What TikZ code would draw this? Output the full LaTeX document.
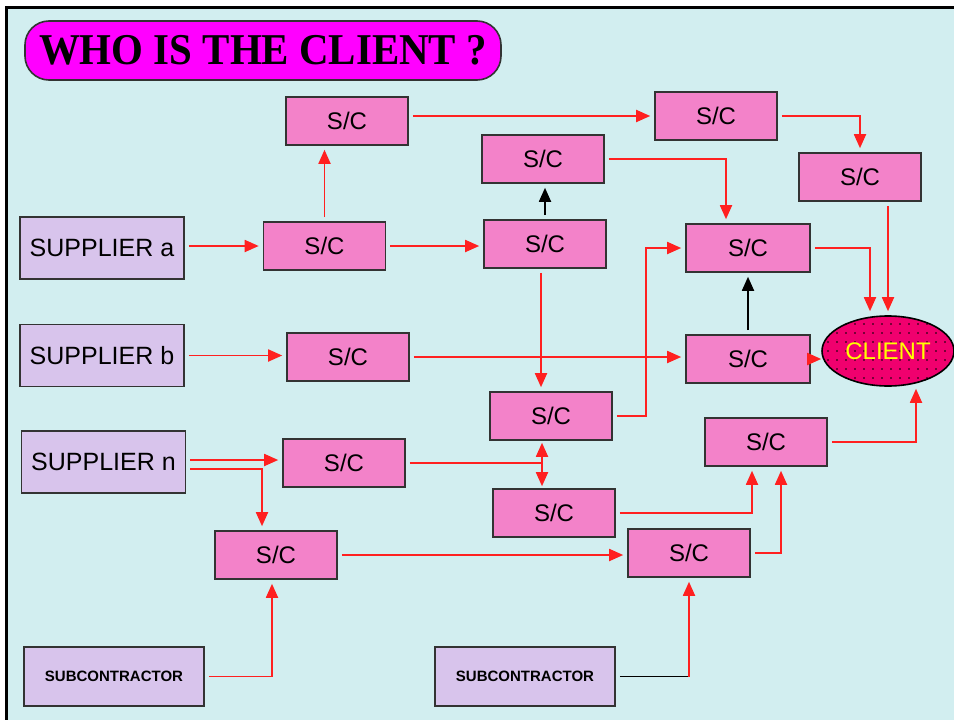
\documentclass[tikz,border=0pt]{standalone}
\usepackage{fontspec}
\setmainfont{Liberation Sans}
\newfontfamily\titlefont{Liberation Serif}
\usetikzlibrary{arrows.meta,patterns.meta,shapes.geometric}
\definecolor{bgc}{HTML}{D2EEF0}
\definecolor{lav}{HTML}{D8C4EC}
\definecolor{scpink}{HTML}{F382C9}
\definecolor{clientc}{HTML}{F0006E}
\definecolor{titlec}{HTML}{FF00FF}
\definecolor{arrred}{HTML}{FF2020}
\definecolor{bordc}{HTML}{333333}
\definecolor{clienttext}{HTML}{FFFF00}
\tikzset{
  boxbase/.style={draw=bordc, line width=1.6pt, inner sep=0pt},
  scbox/.style={boxbase, fill=scpink, minimum width=122pt, minimum height=48pt,
    font=\fontsize{24}{27}\selectfont},
  supbox/.style={boxbase, fill=lav, minimum width=164pt, minimum height=62pt,
    font=\fontsize{25}{29}\selectfont},
  subbox/.style={boxbase, fill=lav, minimum width=180pt, minimum height=59pt,
    font=\bfseries\fontsize{15}{18}\selectfont},
  tipr/.tip={Triangle[length=14pt,width=12pt]},
  arr/.style={draw=arrred, line width=1.8pt, -tipr, shorten >=4pt, shorten <=4pt},
  arrblk/.style={draw=black, line width=1.8pt, -tipr, shorten >=4pt, shorten <=4pt},
  arrboth/.style={draw=arrred, line width=1.8pt, tipr-tipr, shorten >=2pt, shorten <=2pt},
  ln/.style={draw=arrred, line width=1.8pt, shorten <=4pt},
  lnblk/.style={draw=black, line width=1.8pt, shorten <=4pt},
}
\begin{document}
\begin{tikzpicture}[x=1pt,y=-1pt]
\useasboundingbox (0,0) rectangle (954,720);
\fill[white] (0,0) rectangle (954,720);
\fill[bgc] (6.5,7.5) rectangle (954,720);
\draw[line width=3pt] (6.5,720) -- (6.5,7.5) -- (954,7.5);

% title
\node[draw=bordc, line width=1.6pt, fill=titlec, rounded corners=24pt,
  minimum width=476pt, minimum height=59pt, inner sep=0pt,
  font=\titlefont\bfseries\fontsize{44}{50}\selectfont] (title) at (263,50.5)
  {\scalebox{0.93}[1]{WHO IS THE CLIENT ?}};

% suppliers
\node[supbox] (supA) at (102,248) {SUPPLIER a};
\node[supbox] (supB) at (102,355.5) {SUPPLIER b};
\node[supbox] (supN) at (103.5,462) {SUPPLIER n};

% S/C boxes
\node[scbox] (scTop) at (347,121) {S/C};
\node[scbox] (scA1) at (324.5,246) {S/C};
\node[scbox] (scMidTop) at (543,159) {S/C};
\node[scbox] (scMid) at (545,244) {S/C};
\node[scbox] (scTR) at (716,116) {S/C};
\node[scbox] (scR) at (860,177) {S/C};
\node[scbox, minimum width=124pt] (scU) at (748,248) {S/C};
\node[scbox] (scB) at (348,357) {S/C};
\node[scbox, minimum width=124pt] (scBR) at (748,359) {S/C};
\node[scbox] (scM) at (551,416) {S/C};
\node[scbox] (scN) at (344,463) {S/C};
\node[scbox] (scF) at (554,513) {S/C};
\node[scbox] (scE) at (766,442) {S/C};
\node[scbox] (scC) at (276,555) {S/C};
\node[scbox] (scD) at (689,553) {S/C};

% subcontractors
\node[subbox] (sub1) at (114,676.5) {SUBCONTRACTOR};
\node[subbox] (sub2) at (525,676.5) {SUBCONTRACTOR};

% client
\node[ellipse, draw=black, line width=1.6pt, fill=clientc,
  postaction={pattern={Dots[distance=9pt,radius=0.9pt]}, pattern color=black},
  minimum width=132pt, minimum height=70pt, inner sep=0pt,
  text=clienttext, font=\fontsize{24}{28}\selectfont] (client) at (888,351) {CLIENT};

% connectors
\draw[arr] (scA1.west -| supA.east) -- (scA1.west);
\draw[arr] (scA1.north) -- (scA1.north |- scTop.south);
\draw[arr] (scA1.east) -- (scA1.east -| scMid.west);
\draw[arr] (scTR.west -| scTop.east) -- (scTR.west);
\draw[arr] (scTR.east) -| (scR.north);
\draw[arr] (scMidTop.east) -| ([xshift=-22pt]scU.north);
\draw[arrblk] (scMid.north) -- (scMid.north |- scMidTop.south);
\coordinate (j2) at ([xshift=-4pt]scMid.south);
\draw[arr] (j2) -- (j2 |- scM.north);
\draw[arr] (supB.east) -- (supB.east -| scB.west);
\draw[arr] (scB.east) -- (scB.east -| scBR.west);
\draw[arr, shorten <=0pt, shorten >=0pt] (scBR.east) -- (scBR.east -| client.west);
\draw[arrblk] (scBR.north) -- (scU.south);
\draw[arr] (scU.east) -| ([xshift=-18pt]client.north);
\draw[arr] (client.north |- scR.south) -- (client.north);
\coordinate (p) at ([xshift=-39pt]scU.west);
\draw[arr] (scM.east) -| (p) -- (scU.west);
\draw[arr] ([yshift=2pt]supN.east) -- ([yshift=2pt]supN.east -| scN.west);
\draw[arr] ([yshift=-7pt]supN.east) -| ([xshift=-14pt]scC.north);
\coordinate (jx) at ([xshift=-9pt]scM.south);
\draw[arrboth] (jx) -- (jx |- scF.north);
\draw[ln] (scN.east) -- (scN.east -| jx);
\draw[arr] (scF.east) -| ([xshift=-14pt]scE.south);
\draw[arr] (scD.east) -| ([xshift=15pt]scE.south);
\draw[arr, shorten >=2pt] (scE.east) -| ([xshift=28pt]client.south);
\draw[arr] (scC.east) -- (scC.east -| scD.west);
\draw[arr] (sub1.east) -| ([xshift=-4pt]scC.south);
\coordinate (q) at (sub2.east -| scD.south);
\draw[lnblk] (sub2.east) -- (q);
\draw[arr, shorten <=0pt] (q) -- (scD.south);
\end{tikzpicture}
\end{document}
